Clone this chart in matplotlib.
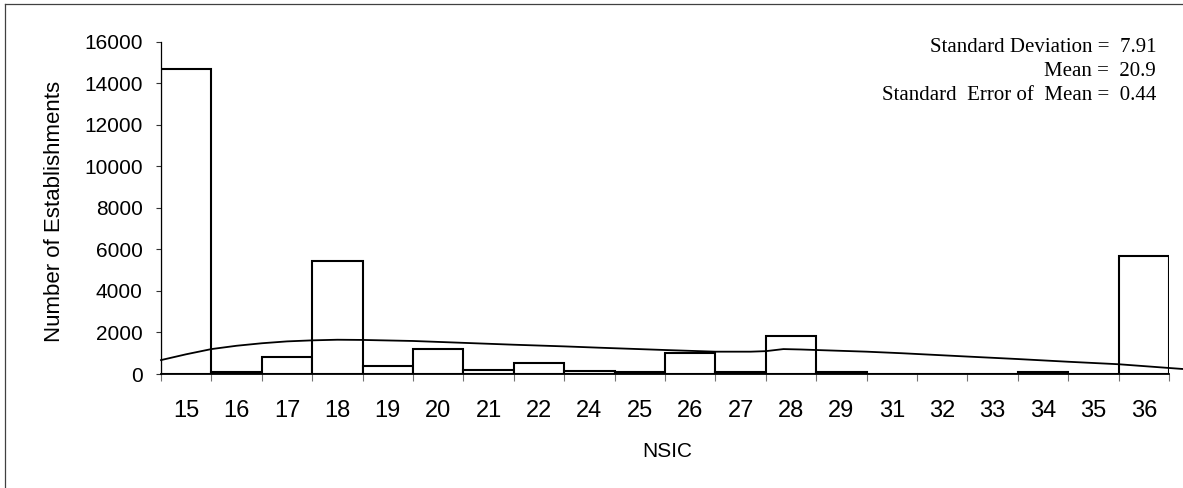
import numpy as np
import matplotlib
matplotlib.use('Agg')
import matplotlib.pyplot as plt
from matplotlib.lines import Line2D

# NSIC codes and establishment counts
nsic = ['15', '16', '17', '18', '19', '20', '21', '22', '24', '25',
        '26', '27', '28', '29', '31', '32', '33', '34', '35', '36']
counts = [14700, 80, 820, 5420, 370, 1180, 170, 540, 150, 80,
          1000, 80, 1840, 80, 0, 0, 0, 100, 0, 5700]

# fitted curve (position in bar widths, value)
curve_pos = [0, 0.5, 1, 1.5, 2, 2.5, 3, 3.5, 4, 5, 6, 7, 8, 8.7,
             10, 11, 11.7, 12, 12.35, 12.7, 13, 14, 14.7, 16, 17, 18, 19, 20, 20.28]
curve_val = [670, 950, 1200, 1360, 1480, 1570, 1620, 1650, 1640, 1590, 1500, 1410, 1330, 1266,
             1155, 1075, 1075, 1100, 1200, 1180, 1155, 1075, 1000, 840, 720, 590, 470, 290, 240]

stats = ['Standard Deviation =  7.91',
         'Mean =  20.9',
         'Standard  Error of  Mean =  0.44']

plt.rcParams['font.family'] = ['Liberation Sans', 'DejaVu Sans']

W, H = 1183, 488
fig = plt.figure(figsize=(W / 100, H / 100), dpi=100)
ax = fig.add_axes([161 / W, 1 - 374 / H, 1008 / W, (374 - 41.7) / H])

x = np.arange(len(nsic))
ax.bar(x + 0.5, counts, width=1.0, color='white', edgecolor='black', linewidth=1.5, zorder=2)
ax.plot(curve_pos, curve_val, color='black', linewidth=1.3, clip_on=False, zorder=3)

ax.set_xlim(0, len(nsic))
ax.set_ylim(0, 16000)
ax.set_yticks(np.arange(0, 16001, 2000))
ax.tick_params(axis='y', length=3.6, width=0.8, color='0.2', pad=9.5, labelsize=15)

ax.set_xticks(np.arange(0, len(nsic) + 1))
ax.set_xticklabels([])
ax.set_xticks(x + 0.5, minor=True)
ax.set_xticklabels(nsic, minor=True)
ax.tick_params(axis='x', which='major', length=5.3, width=0.8, color='0.45')
ax.tick_params(axis='x', which='minor', length=0, pad=19, labelsize=17)

for s in ['top', 'right']:
    ax.spines[s].set_visible(False)
ax.spines['left'].set_linewidth(0.9)
ax.spines['bottom'].set_linewidth(1.3)
ax.spines['bottom'].set_zorder(4)

ax.set_ylabel('Number of Establishments', fontsize=16)
ax.yaxis.set_label_coords(-0.095, 0.49)
ax.set_xlabel('NSIC', fontsize=15)
ax.xaxis.set_label_coords(0.502, -0.205)

for t, yb in zip(stats, [52.3, 75.5, 100]):
    fig.text(1156 / W, 1 - yb / H, t, ha='right', va='baseline',
             family='Liberation Serif', fontsize=15)

# frame lines of the original page (left and top only are in the crop)
fig.add_artist(Line2D([5 / W, 5 / W], [0, 1 - 4 / H], transform=fig.transFigure, color='0.25', lw=0.9))
fig.add_artist(Line2D([5 / W, 1], [1 - 4 / H, 1 - 4 / H], transform=fig.transFigure, color='0.25', lw=0.9))

fig.savefig('out.png', dpi=100)
